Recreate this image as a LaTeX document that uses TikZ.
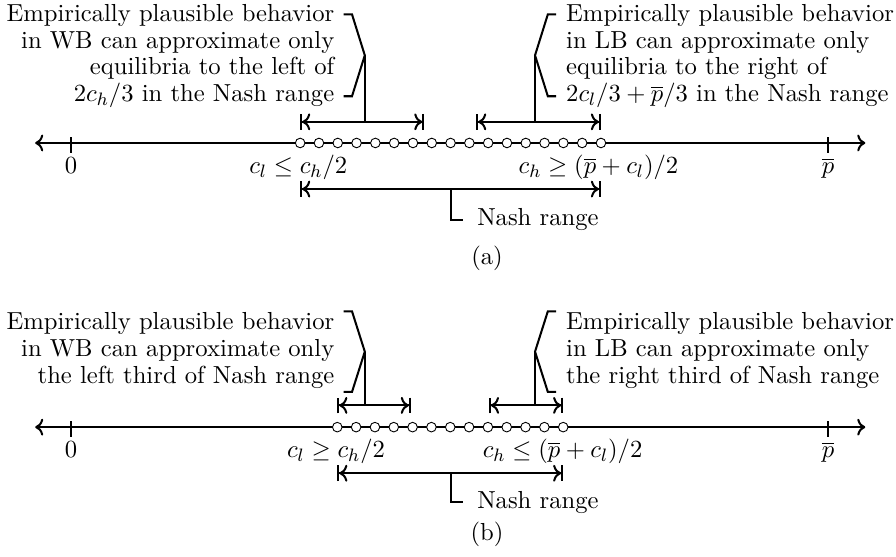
\documentclass[tikz,border=0pt]{standalone}
\usepackage{tikz}
\usetikzlibrary{arrows.meta, positioning, calc}
\tikzset{
  every node/.style = {font=\fontsize{10.95}{11.9}\selectfont},
  axisline/.style = {{To[]}-{To[]}, line width=0.9pt},
  dot/.style      = {circle, draw, thin, fill=white, inner sep=0pt,
                     minimum size=0.15cm},
  span/.style     = {{Bar[width=7pt]To[]}-{To[]Bar[width=7pt]},
                     line width=0.9pt},
  lead/.style     = {line width=0.9pt},
  axtick/.style   = {line width=0.9pt},
  note/.style     = {inner sep=0pt},
}

\begin{document}
\begin{tikzpicture}
  \useasboundingbox (0,2.234) rectangle (14,-6.469);

  %% (a) upper panel
  \draw[axisline] (0.55,0) -- (13.52,0);
  \draw[axtick] (1.11,0.09) -- (1.11,-0.16);
  \draw[axtick] (12.94,0.09) -- (12.94,-0.16);
  \node[anchor=base] (zeroA) at (1.11,-0.47) {$0$};
  \node[anchor=base] (pbarA) at (12.94,-0.47) {$\overline{p}$};
  \foreach \i in {0,...,16}
    \node[dot] (dA\i) at ({4.69+0.29375*\i},0) {};
  \node[anchor=base] (loA) at (4.66,-0.47) {$c_l \le c_h/2$};
  \node[anchor=base] (hiA) at (9.35,-0.47) {$c_h \ge (\overline{p}+c_l)/2$};

  \coordinate (wbLA) at (4.69,0.33);
  \coordinate (wbRA) at (6.63,0.33);
  \coordinate (lbLA) at (7.44,0.33);
  \coordinate (lbRA) at (9.39,0.33);
  \draw[span] (wbLA) -- (wbRA);
  \draw[span] (lbLA) -- (lbRA);

  \node[note, align=right, anchor=east] (wbA) at (5.23,1.36)
        {Empirically plausible behavior\\ in WB can approximate only\\
         equilibria to the left of\\ $2c_h/3$ in the Nash range};
  \node[note, align=left, anchor=west] (lbA) at (8.84,1.36)
        {Empirically plausible behavior\\ in LB can approximate only\\
         equilibria to the right of\\ $2c_l/3+\overline{p}/3$ in the Nash range};
  \coordinate (wbTipA) at (5.70,1.37);
  \coordinate (lbTipA) at (8.36,1.37);
  \draw[lead] (5.37,2.01) -- (5.50,2.01) -- (wbTipA) -- (5.50,0.73) -- (5.37,0.73);
  \draw[lead] (8.69,2.01) -- (8.56,2.01) -- (lbTipA) -- (8.56,0.73) -- (8.69,0.73);
  \draw[lead] (wbTipA) -- (wbTipA |- wbLA);
  \draw[lead] (lbTipA) -- (lbTipA |- lbLA);

  %% Nash range
  \coordinate (nashLA) at (4.69,-0.72);
  \coordinate (nashRA) at (9.39,-0.72);
  \draw[span] (nashLA) -- (nashRA);
  \node[note, anchor=west] (nashA) at (7.45,-1.20) {Nash range};
  \draw[lead] ($(nashLA)!0.5!(nashRA)$) |- ([xshift=-0.22cm]nashA.west);
  \node (capA) at (7.61,-1.80) {(a)};

  %% (b) lower panel
  \begin{scope}[yshift=-4.44cm]
  \draw[axisline] (0.55,0) -- (13.52,0);
  \draw[axtick] (1.11,0.09) -- (1.11,-0.16);
  \draw[axtick] (12.94,0.09) -- (12.94,-0.16);
  \node[anchor=base] (zeroB) at (1.11,-0.47) {$0$};
  \node[anchor=base] (pbarB) at (12.94,-0.47) {$\overline{p}$};
  \foreach \i in {0,...,12}
    \node[dot] (dB\i) at ({5.27+0.29417*\i},0) {};
  \node[anchor=base] (loB) at (5.25,-0.47) {$c_l \ge c_h/2$};
  \node[anchor=base] (hiB) at (8.79,-0.47) {$c_h \le (\overline{p}+c_l)/2$};

  \coordinate (wbLB) at (5.27,0.34);
  \coordinate (wbRB) at (6.42,0.34);
  \coordinate (lbLB) at (7.64,0.34);
  \coordinate (lbRB) at (8.80,0.34);
  \draw[span] (wbLB) -- (wbRB);
  \draw[span] (lbLB) -- (lbRB);

  \node[note, align=right, anchor=east] (wbB) at (5.23,1.20)
        {Empirically plausible behavior\\ in WB can approximate only\\
         the left third of Nash range};
  \node[note, align=left, anchor=west] (lbB) at (8.84,1.20)
        {Empirically plausible behavior\\ in LB can approximate only\\
         the right third of Nash range};
  \coordinate (wbTipB) at (5.70,1.18);
  \coordinate (lbTipB) at (8.36,1.18);
  \draw[lead] (5.37,1.81) -- (5.50,1.81) -- (wbTipB) -- (5.50,0.55) -- (5.37,0.55);
  \draw[lead] (8.69,1.81) -- (8.56,1.81) -- (lbTipB) -- (8.56,0.55) -- (8.69,0.55);
  \draw[lead] (wbTipB) -- (wbTipB |- wbLB);
  \draw[lead] (lbTipB) -- (lbTipB |- lbLB);

  %% Nash range
  \coordinate (nashLB) at (5.27,-0.72);
  \coordinate (nashRB) at (8.80,-0.72);
  \draw[span] (nashLB) -- (nashRB);
  \node[note, anchor=west] (nashB) at (7.45,-1.17) {Nash range};
  \draw[lead] (7.04,-0.72) |- ([xshift=-0.22cm]nashB.west);
  \node (capB) at (7.61,-1.67) {(b)};
  \end{scope}

\end{tikzpicture}
\end{document}
